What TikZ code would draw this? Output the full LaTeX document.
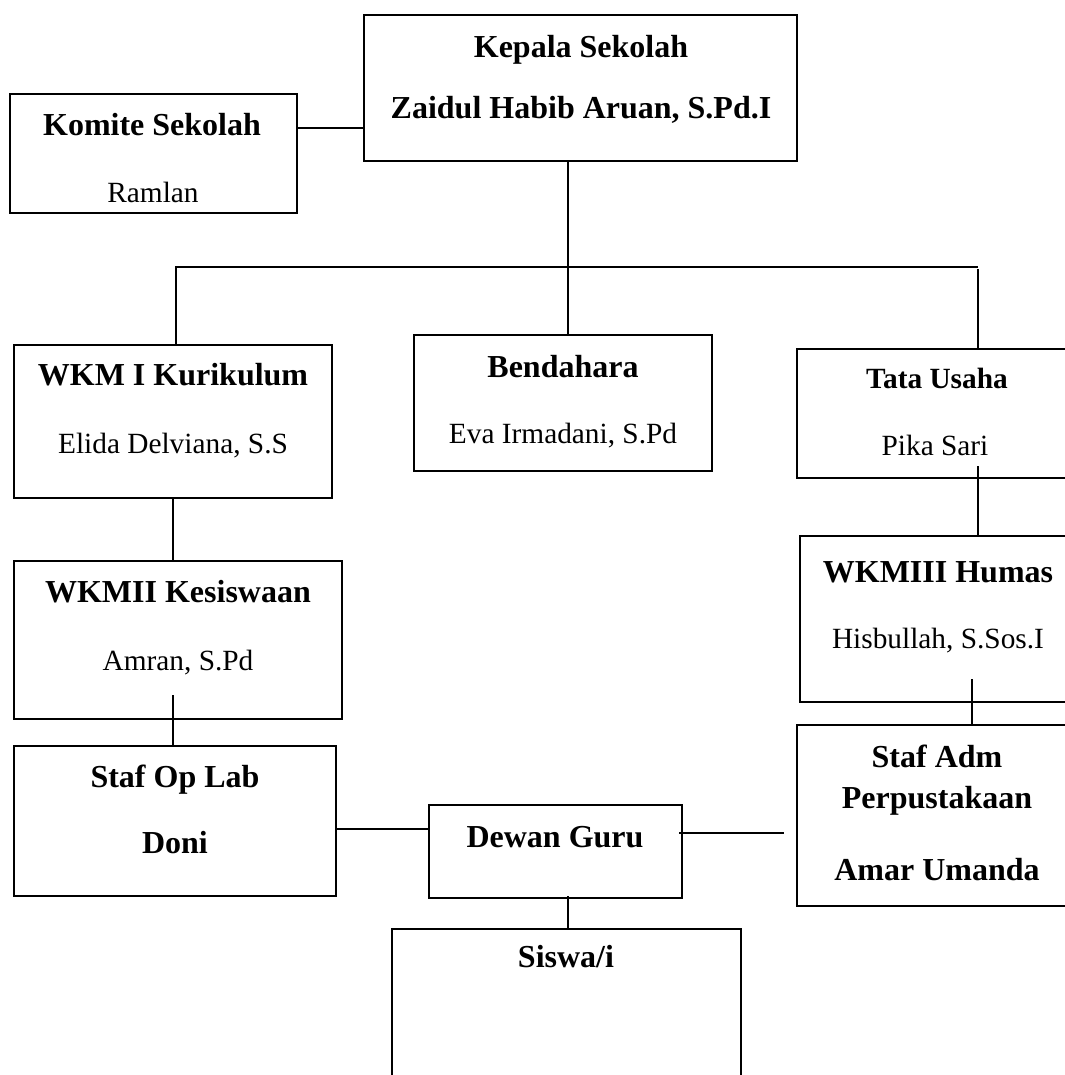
\documentclass[tikz,border=0pt]{standalone}
\usepackage{fontspec}
\setmainfont{Liberation Serif}
\usetikzlibrary{calc}

\tikzset{
  orgbox/.style 2 args={draw, line width=0.8pt, inner sep=0pt,
    minimum width=#1*0.375pt, minimum height=#2*0.375pt},
  title/.style={anchor=base, inner sep=0pt, font=\fontsize{12}{14}\selectfont\bfseries},
  smalltitle/.style={anchor=base, inner sep=0pt, font=\fontsize{11}{13}\selectfont\bfseries},
  person/.style={anchor=base, inner sep=0pt, font=\fontsize{11}{13}\selectfont},
  link/.style={line width=0.8pt}
}

\begin{document}
\begin{tikzpicture}[x=0.375pt, y=-0.375pt]

            \useasboundingbox (0,0) rectangle (1065,1075);
            \clip (0,0) rectangle (1065,1075);

            % boxes
            \path   (580.5,88)    node (kepala)    [orgbox={433}{146}] {}
                    (153.5,153.5) node (komite)    [orgbox={287}{119}] {}
                    (173,421.5)   node (wkm1)      [orgbox={318}{153}] {}
                    (563,403)     node (bendahara) [orgbox={298}{136}] {}
                    (937.5,413.5) node (tata)      [orgbox={281}{129}] {}
                    (939,619)     node (humas)     [orgbox={278}{166}] {}
                    (937.5,815.5) node (stafadm)   [orgbox={281}{181}] {}
                    (178,640)     node (kesiswaan) [orgbox={328}{158}] {}
                    (175,821)     node (oplab)     [orgbox={322}{150}] {}
                    (555.5,851.5) node (dewan)     [orgbox={253}{93}] {}
                    (566.5,1014.5) node (siswa)    [orgbox={349}{171}] {};

            % texts
            \path   (581,57)  node (t-kepala)    [title] {Kepala Sekolah}
                    (581,118) node (n-kepala)    [title] {Zaidul Habib Aruan, S.Pd.I}
                    (152,135) node (t-komite)    [title] {Komite Sekolah}
                    (153,202) node (n-komite)    [person] {Ramlan}
                    (173,385) node (t-wkm1)      [title] {WKM I Kurikulum}
                    (173,453) node (n-wkm1)      [person] {Elida Delviana, S.S}
                    (563,377) node (t-bendahara) [title] {Bendahara}
                    (563,443) node (n-bendahara) [person] {Eva Irmadani, S.Pd}
                    (937,388) node (t-tata)      [smalltitle] {Tata Usaha}
                    (935,455) node (n-tata)      [person] {Pika Sari}
                    (938,582) node (t-humas)     [title] {WKMIII Humas}
                    (938,648) node (n-humas)     [person] {Hisbullah, S.Sos.I}
                    (937,767) node (t-stafadm)   [title] {Staf Adm}
                    (937,808) node (u-stafadm)   [title] {Perpustakaan}
                    (937,880) node (n-stafadm)   [title] {Amar Umanda}
                    (178,602) node (t-kesiswaan) [title] {WKMII Kesiswaan}
                    (178,670) node (n-kesiswaan) [person] {Amran, S.Pd}
                    (175,787) node (t-oplab)     [title] {Staf Op Lab}
                    (175,853) node (n-oplab)     [title] {Doni}
                    (555,847) node (t-dewan)     [title] {Dewan Guru}
                    (566,967) node (t-siswa)     [title] {Siswa/i};

            \coordinate (busL) at (176,267);
            \coordinate (busR) at (978,267);

            % connectors
            \draw[link] (komite.east |- 0,128) -- (kepala.west |- 0,128);
            \draw[link] (kepala.south -| 568,0) -- (bendahara.north -| 568,0);
            \draw[link] (wkm1.north -| busL) -- (busL) -- (busR);
            \draw[link] ($(busR)+(0,2)$) -- (tata.north -| busR);
            \draw[link] (wkm1.south) -- (wkm1.south |- kesiswaan.north);
            \draw[link] ($(kesiswaan.south -| wkm1.south)+(0,-25)$) -- (oplab.north -| wkm1.south);
            \draw[link] ($(tata.south -| busR)+(0,-13)$) -- (humas.north -| busR);
            \draw[link] ($(humas.south -| 972,0)+(0,-24)$) -- (stafadm.north -| 972,0);
            \draw[link] (oplab.east |- 0,829) -- (dewan.west |- 0,829);
            \draw[link] ($(dewan.east |- 0,833)+(-4,0)$) -- ($(stafadm.west |- 0,833)+(-12,0)$);
            \draw[link] ($(dewan.south -| 568,0)+(0,-3)$) -- (siswa.north -| 568,0);
        \end{tikzpicture}
\end{document}
